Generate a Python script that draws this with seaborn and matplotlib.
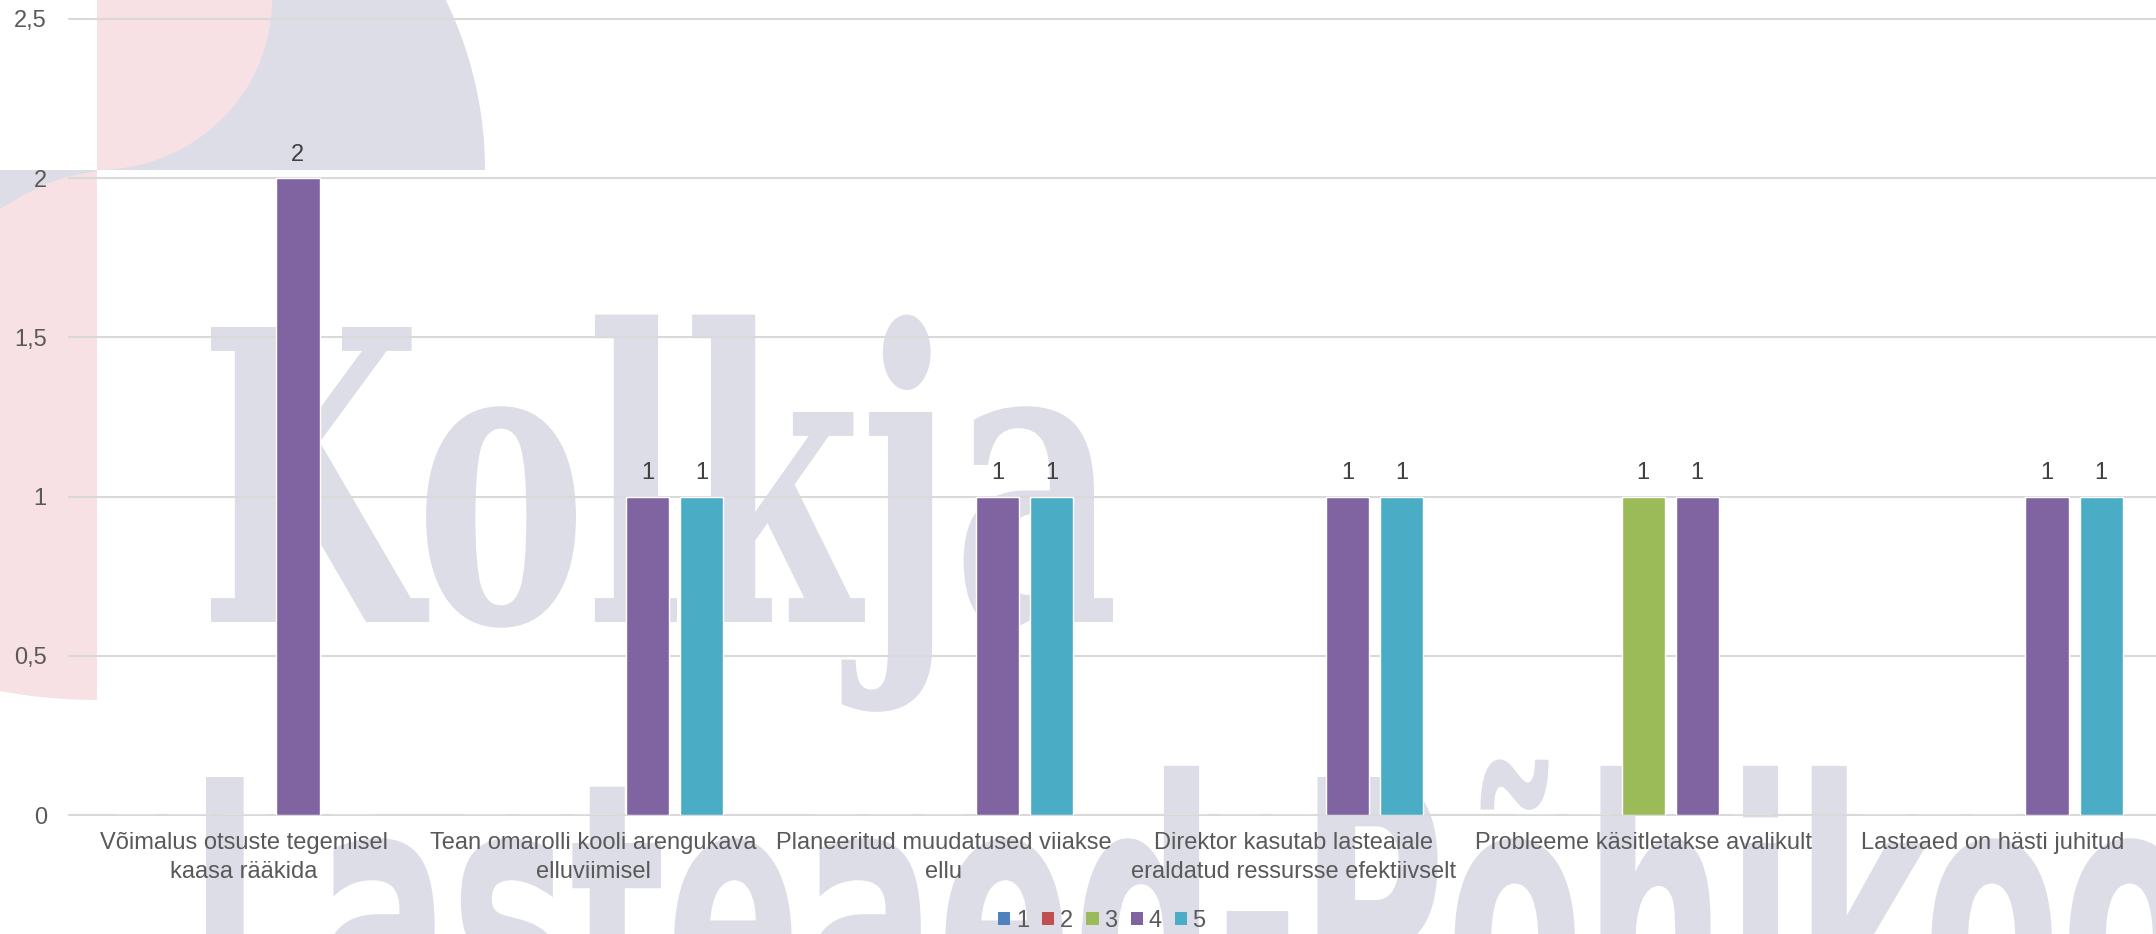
import numpy as np
import pandas as pd
import matplotlib
matplotlib.use("Agg")
import matplotlib.pyplot as plt
import seaborn as sns
from matplotlib.textpath import TextPath
from matplotlib.font_manager import FontProperties
from matplotlib.patches import PathPatch, Polygon, Rectangle
from matplotlib.path import Path

# ---------------- data ----------------
categories = [
    "Võimalus otsuste tegemisel\nkaasa rääkida",
    "Tean omarolli kooli arengukava\nelluviimisel",
    "Planeeritud muudatused viiakse\nellu",
    "Direktor kasutab lasteaiale\neraldatud ressursse efektiivselt",
    "Probleeme käsitletakse avalikult",
    "Lasteaed on hästi juhitud",
]
series = ["1", "2", "3", "4", "5"]
s1 = [0, 0, 0, 0, 0, 0]
s2 = [0, 0, 0, 0, 0, 0]
s3 = [0, 0, 0, 0, 1, 0]
s4 = [2, 1, 1, 1, 1, 1]
s5 = [0, 1, 1, 1, 0, 1]
colors = ["#4F81BD", "#C0504D", "#9BBB59", "#8064A2", "#4BACC6"]
yticks = [0, 0.5, 1, 1.5, 2, 2.5]
ytick_labels = ["0", "0,5", "1", "1,5", "2", "2,5"]

W, H = 2156, 934

sns.set_theme(style="white")
plt.rcParams["font.family"] = ["Liberation Sans", "DejaVu Sans"]

fig = plt.figure(figsize=(W / 100, H / 100), dpi=100)
fig.patch.set_facecolor("white")

# ---------------- background watermark (decoration) ----------------
LAV = "#dddde8"
PINK = "#f7e1e5"


def P(pts):
    return [(x / W, 1 - y / H) for x, y in pts]


# top piece: lavender quarter disc with pink inner quarter ellipse
th = np.linspace(np.arcsin(170 / 388), 0, 40)
arc = [(97 + 388 * np.cos(t), 170 - 388 * np.sin(t)) for t in th]
fig.add_artist(Polygon(P([(97, 0)] + arc + [(97, 170)]), closed=True,
                       facecolor=LAV, edgecolor="none", transform=fig.transFigure, zorder=-6))
th2 = np.linspace(0, np.pi / 2, 40)
ell = [(97 + 175 * np.cos(t), 0 + 170 * np.sin(t)) for t in th2]
fig.add_artist(Polygon(P([(97, 0)] + ell + [(97, 170)]), closed=True,
                       facecolor=PINK, edgecolor="none", transform=fig.transFigure, zorder=-5))

# lower-left piece
fig.add_artist(Polygon(P([(0, 170), (97, 170), (97, 215), (0, 215)]), closed=True,
                       facecolor=LAV, edgecolor="none", transform=fig.transFigure, zorder=-6))
xs = np.linspace(97, 0, 30)
bot = [(x, 170 + np.sqrt(530 ** 2 - (x - 97) ** 2)) for x in xs]
fig.add_artist(Polygon(P([(0, 209), (20, 197), (46, 184), (70, 176), (97, 171)] + bot),
                       closed=True, facecolor=PINK, edgecolor="none",
                       transform=fig.transFigure, zorder=-5))


def text_patch(text, prop, x_left, x_right, baseline, cap_px, ref_char):
    tp = TextPath((0, 0), text, size=100, prop=prop)
    cap = TextPath((0, 0), ref_char, size=100, prop=prop).get_extents().y1
    ext = tp.get_extents()
    sy = cap_px / cap
    sx = (x_right - x_left) / ext.width
    v = tp.vertices
    X = x_left + (v[:, 0] - ext.x0) * sx
    Y = (H - baseline) + v[:, 1] * sy
    path = Path(np.column_stack([X / W, Y / H]), tp.codes)
    fig.add_artist(PathPatch(path, facecolor=LAV, edgecolor="none",
                             transform=fig.transFigure, zorder=-4))


text_patch("Kolkja", FontProperties(family="DejaVu Serif", weight="bold"),
           211, 1113, 622, 295, "K")
text_patch("Lasteaed-Põhikool", FontProperties(family="DejaVu Sans", weight="bold"),
           206, 2250, 1041, 264, "L")

# ---------------- chart ----------------
ax = fig.add_axes([69 / W, (H - 815) / H, 2099 / W, 796 / H])
ax.set_facecolor("none")

df = pd.DataFrame({
    "cat": categories * 5,
    "ser": sum([[s] * len(categories) for s in series], []),
    "val": s1 + s2 + s3 + s4 + s5,
})

sns.barplot(data=df, x="cat", y="val", hue="ser", hue_order=series, order=categories,
            palette=colors, width=0.772, gap=0.2, saturation=1, legend=False, ax=ax,
            errorbar=None)

vals = [s1, s2, s3, s4, s5]
for cont, v in zip(ax.containers, vals):
    labels = ["" if x == 0 else f"{x:g}" for x in v]
    ax.bar_label(cont, labels=labels, padding=9, color="#404040", fontsize=17)

ax.set_ylim(0, 2.5)
ax.set_xlim(-0.5, len(categories) - 0.5)
ax.set_yticks(yticks, ytick_labels)
ax.set_xticks(range(len(categories)), categories)
ax.set_xlabel("")
ax.set_ylabel("")
ax.yaxis.grid(True, color="#d9d9d9", linewidth=1.5)
ax.set_axisbelow(True)
for gl in ax.get_ygridlines():
    gl.set_clip_on(False)
for sp in ax.spines.values():
    sp.set_visible(False)
ax.tick_params(axis="y", length=0, pad=16, labelsize=17, labelcolor="#595959")
ax.tick_params(axis="x", length=0, pad=12, labelsize=17, labelcolor="#595959")
for t in ax.get_xticklabels():
    t.set_linespacing(1.42)

handles = [Rectangle((0, 0), 1, 1, facecolor=c, edgecolor="none") for c in colors]
fig.legend(handles, series, loc="center", bbox_to_anchor=(1102 / W, 1 - 921 / H),
           ncol=5, frameon=False, fontsize=17, handlelength=0.51, handleheight=0.51,
           handletextpad=0.25, columnspacing=0.55, labelcolor="#595959",
           borderpad=0, borderaxespad=0)

fig.savefig("out.png", dpi=100, facecolor="white")
